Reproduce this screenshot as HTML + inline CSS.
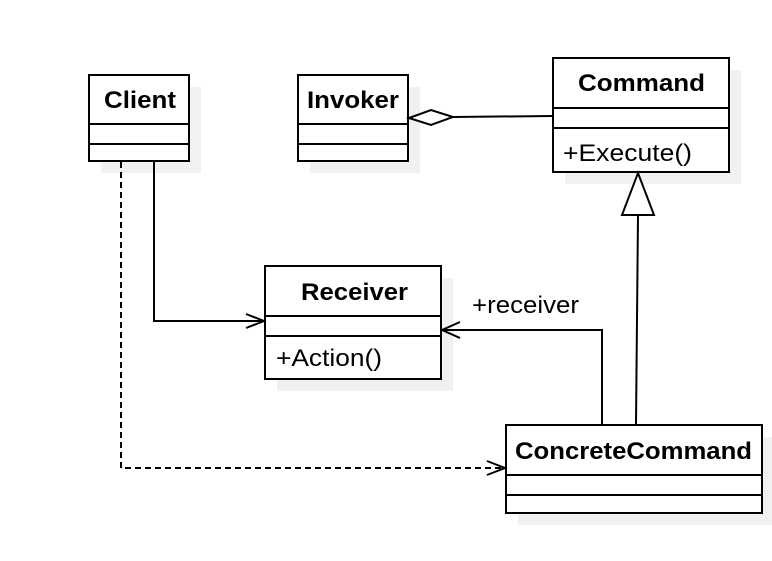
<!DOCTYPE html>
<html><head><style>
html,body{margin:0;padding:0;background:#fff;}
svg text{font-family:"Liberation Sans",Arial,sans-serif;fill:#000;}
</style></head><body>
<svg width="772" height="556" xmlns="http://www.w3.org/2000/svg">
<g fill="#f1f1f1">
<rect x="101" y="87" width="100" height="86"/>
<rect x="310" y="87" width="110" height="86"/>
<rect x="565" y="70" width="176" height="114"/>
<rect x="277" y="278" width="176" height="113"/>
<rect x="518" y="437" width="256" height="88"/>
</g>
<g fill="#fff" stroke="#000" stroke-width="2">
<rect x="89" y="75" width="100" height="86"/>
<rect x="298" y="75" width="110" height="86"/>
<rect x="553" y="58" width="176" height="114"/>
<rect x="265" y="266" width="176" height="113"/>
<rect x="506" y="425" width="256" height="88"/>
</g>
<g stroke="#000" stroke-width="2" fill="none">
<line x1="89" y1="124" x2="189" y2="124"/><line x1="89" y1="144" x2="189" y2="144"/>
<line x1="298" y1="124" x2="408" y2="124"/><line x1="298" y1="144" x2="408" y2="144"/>
<line x1="553" y1="108" x2="729" y2="108"/><line x1="553" y1="128" x2="729" y2="128"/>
<line x1="265" y1="316" x2="441" y2="316"/><line x1="265" y1="336" x2="441" y2="336"/>
<line x1="506" y1="475" x2="762" y2="475"/><line x1="506" y1="495" x2="762" y2="495"/>
<polygon points="409,118 431,110 453,117 431,125" fill="#fff"/>
<line x1="453" y1="117" x2="552" y2="116"/>
<polyline points="154,161 154,321 264,321"/>
<polyline points="246,314 264,321 246,328"/>
<polyline points="121,162 121,468 505,468" stroke-dasharray="6,4"/>
<polyline points="487,461 505,468 487,475"/>
<polyline points="602,424 602,330 442,330"/>
<polyline points="460,322 442,330 460,338"/>
<line x1="636" y1="424" x2="638" y2="215"/>
<polygon points="638,173 622,215 654,215" fill="#fff"/>
</g>
<g font-weight="bold" font-size="24" lengthAdjust="spacingAndGlyphs">
<text x="104" y="108" textLength="72" lengthAdjust="spacingAndGlyphs">Client</text>
<text x="307" y="108" textLength="92" lengthAdjust="spacingAndGlyphs">Invoker</text>
<text x="578" y="91" textLength="127" lengthAdjust="spacingAndGlyphs">Command</text>
<text x="301" y="300" textLength="107" lengthAdjust="spacingAndGlyphs">Receiver</text>
<text x="515" y="459" textLength="237" lengthAdjust="spacingAndGlyphs">ConcreteCommand</text>
</g>
<g font-size="24">
<text x="563" y="161" textLength="129" lengthAdjust="spacingAndGlyphs">+Execute()</text>
<text x="276" y="366" textLength="106" lengthAdjust="spacingAndGlyphs">+Action()</text>
<text x="472" y="313" textLength="107" lengthAdjust="spacingAndGlyphs">+receiver</text>
</g>
</svg>
</body></html>
